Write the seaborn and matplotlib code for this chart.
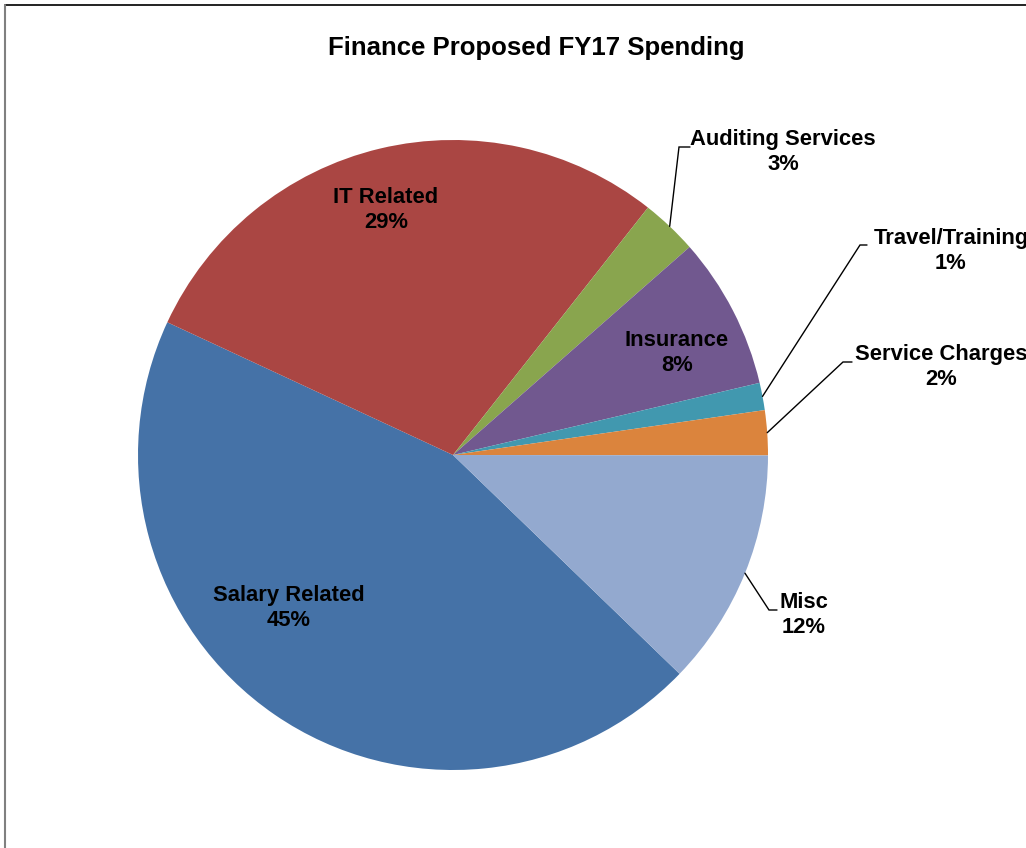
import numpy as np
import matplotlib
matplotlib.use("Agg")
import matplotlib.pyplot as plt
import seaborn as sns

# Spending categories (percent of proposed FY17 budget)
categories = ["Salary Related", "IT Related", "Auditing Services", "Insurance",
              "Travel/Training", "Service Charges", "Misc"]
shares = [44.7, 28.7, 2.9, 7.8, 1.4, 2.3, 12.2]
colors = ["#4572A7", "#AA4643", "#89A54E", "#71588F", "#4198AF", "#DB843D", "#93A9CF"]

title = "Finance Proposed FY17 Spending"

sns.set_theme(style="white")
plt.rcParams["font.family"] = ["Liberation Sans", "DejaVu Sans"]
plt.rcParams["text.color"] = "black"

W, H = 1026, 848
CX, CY, R = 453, 455, 315   # pie centre and radius in pixels


def px(x, y):
    """Pixel position (origin top-left) -> data coordinates of the pie axes."""
    return (x - CX) / R, (CY - y) / R


fig = plt.figure(figsize=(W / 100, H / 100), dpi=100)
ax = fig.add_axes([0, 0, 1, 1])

wedges, _ = ax.pie(shares, colors=colors, startangle=-44, counterclock=False,
                   radius=1.0, center=(0, 0), wedgeprops=dict(linewidth=0),
                   frame=True)
ax.set_xlim(-CX / R, (W - CX) / R)
ax.set_ylim((CY - H) / R, CY / R)
ax.set_aspect("auto")
ax.axis("off")

font = dict(fontsize=15.8, fontweight="bold", color="black",
            ha="center", va="center", linespacing=1.27)

# Labels drawn inside their slices: text-block centre in pixels
inside = {
    "Salary Related": (289, 608),
    "IT Related": (386, 210),
    "Insurance": (677, 353),
}
# Labels outside with leader lines: (text centre, elbow start, elbow end)
outside = {
    "Auditing Services": ((783, 152), (679, 147), (690, 147)),
    "Travel/Training": ((951, 251), (860, 245), (867, 245)),
    "Service Charges": ((941, 367), (843, 362), (852, 362)),
    "Misc": ((804, 615), (769, 610), (777, 610)),
}

for name, share, w in zip(categories, shares, wedges):
    label = f"{name}\n{round(share):.0f}%"
    if name in inside:
        ax.text(*px(*inside[name]), label, **font)
    else:
        text_pos, elbow_a, elbow_b = outside[name]
        mid = np.deg2rad((w.theta1 + w.theta2) / 2)
        anchor = (np.cos(mid), np.sin(mid))
        xa, ya = px(*elbow_a)
        xb, yb = px(*elbow_b)
        ax.plot([anchor[0], xa, xb], [anchor[1], ya, yb], color="black",
                linewidth=1.0, solid_joinstyle="miter")
        ax.text(*px(*text_pos), label, **font)

fig.text(536.5 / W, 1 - 48 / H, title, fontsize=18.5, fontweight="bold",
         color="black", ha="center", va="center")

# Chart-area frame (top and left edges visible)
fig.add_artist(plt.Line2D([5 / W, 1], [1 - 5 / H, 1 - 5 / H],
                          transform=fig.transFigure, color="#111111", linewidth=1.3))
fig.add_artist(plt.Line2D([5 / W, 5 / W], [0, 1 - 5 / H],
                          transform=fig.transFigure, color="#808080", linewidth=1.5))

fig.savefig("out.png", dpi=100, facecolor="white")
